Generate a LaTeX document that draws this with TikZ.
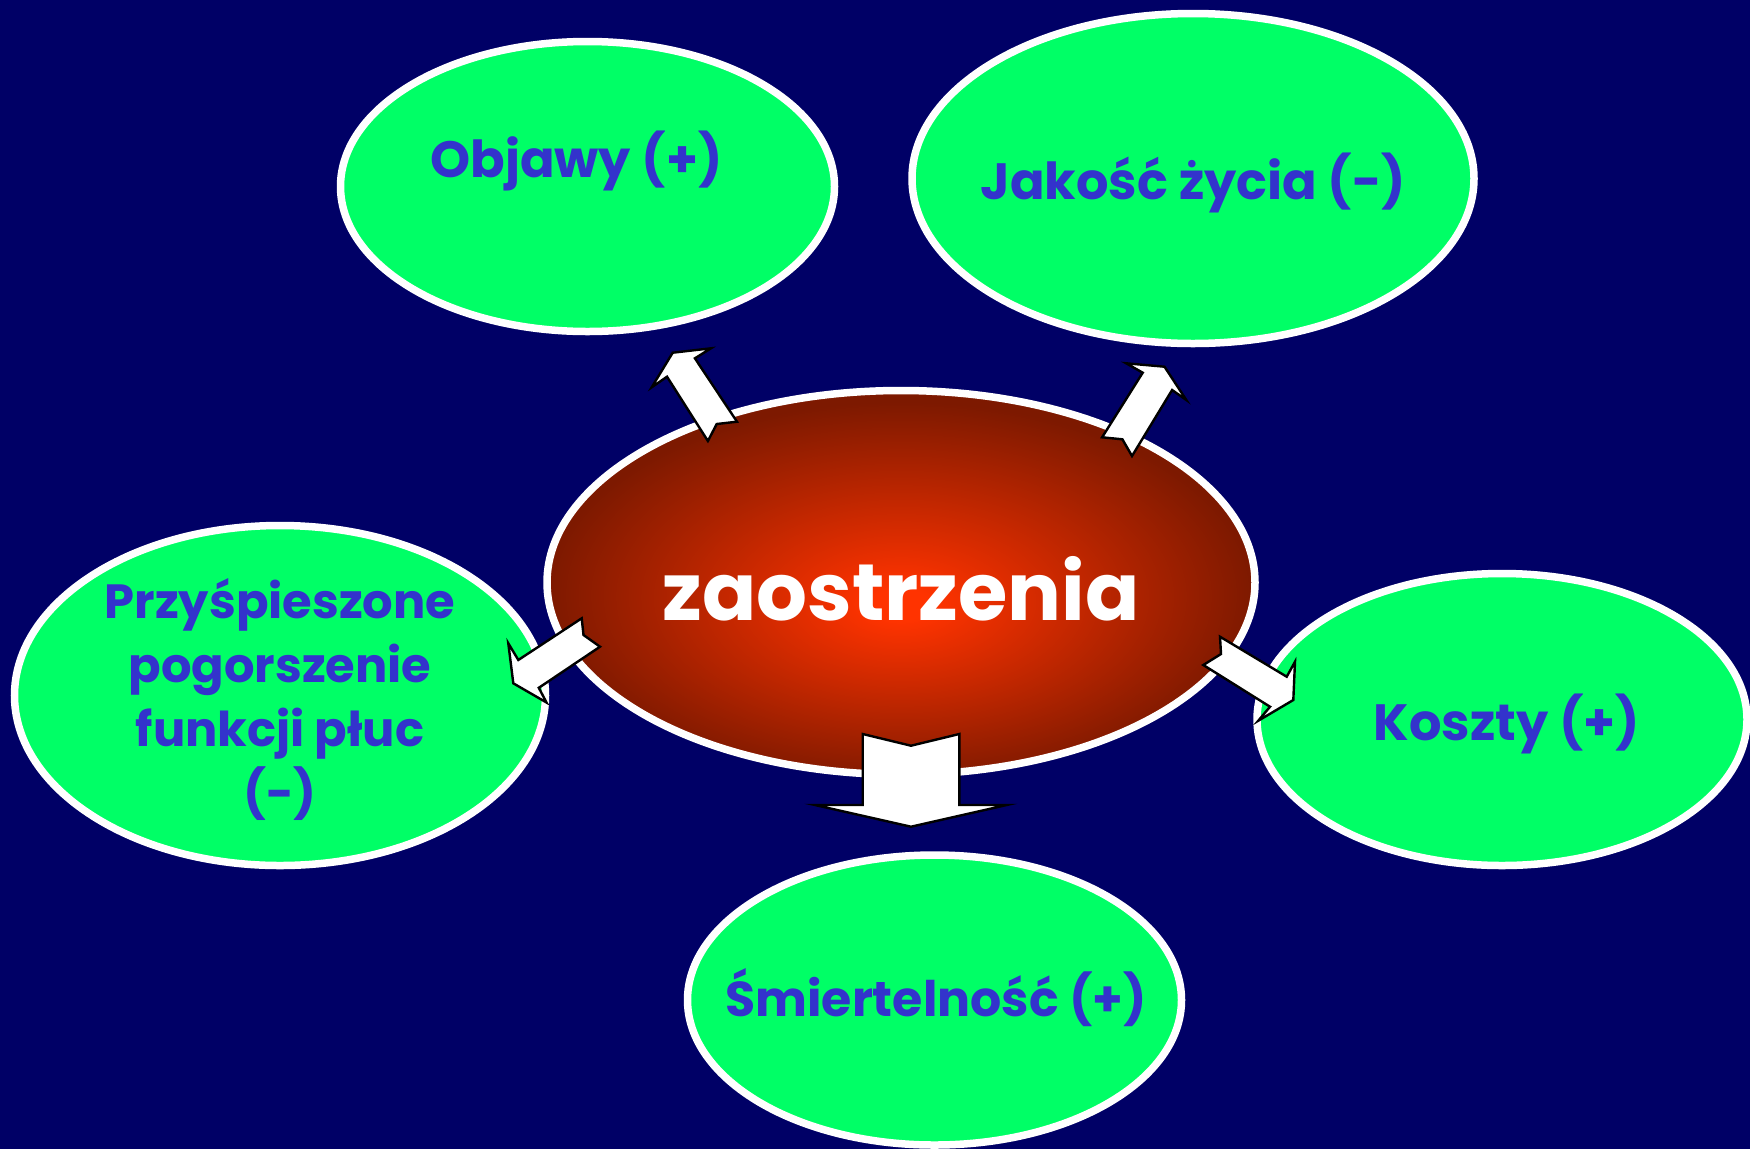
\documentclass[tikz,border=0pt]{standalone}
\usepackage{fontspec}
\setmainfont{Poppins}
\usetikzlibrary{shapes.geometric}
\definecolor{bgnavy}{RGB}{0,0,102}
\definecolor{bubgreen}{RGB}{0,255,102}
\definecolor{txtblue}{RGB}{51,51,204}
\definecolor{cInner}{RGB}{255,51,0}
\definecolor{cOuter}{RGB}{125,25,0}
\pgfdeclareradialshading{centralshade}{\pgfpoint{0bp}{-3bp}}{color(0bp)=(cInner); color(2bp)=(cInner); color(25bp)=(cOuter); color(50bp)=(cOuter)}
\tikzset{
  bubble/.style={ellipse, draw=white, line width=7.5pt, fill=bubgreen, inner sep=0pt},
  lbl/.style={text=txtblue, font=\bfseries\fontsize{51}{64}\selectfont, align=center, inner sep=0pt},
  lblsmall/.style={lbl, font=\bfseries\fontsize{48}{64}\selectfont},
  lblmid/.style={lbl, font=\bfseries\fontsize{49}{64}\selectfont},
  bigl/.style={text=white, font=\bfseries\fontsize{80}{90}\selectfont, inner sep=0pt},
  blockarrow/.style={fill=white, draw=black, line width=2.4pt, line join=miter},
}
\begin{document}
\begin{tikzpicture}[x=1pt,y=-1pt]
\useasboundingbox (0,0) rectangle (1750,1149);
\clip (0,0) rectangle (1750,1149);
\fill[bgnavy] (0,0) rectangle (1750,1149);
% bubbles
\node[bubble, minimum width=494pt, minimum height=290pt] (objawy) at (587.5,186.5) {};
\node[bubble, minimum width=562pt, minimum height=330pt] (jakosc) at (1193,178.5) {};
\node[bubble, minimum width=531pt, minimum height=340pt] (przysp) at (280,695.5) {};
\node[bubble, minimum width=490pt, minimum height=292pt] (koszty) at (1502,719.5) {};
\node[bubble, minimum width=494pt, minimum height=290pt] (smiert) at (934.5,1000) {};
\node[ellipse, draw=white, line width=7.5pt, shading=centralshade, inner sep=0pt,
      minimum width=708pt, minimum height=384pt] (centr) at (901,582.5) {};
% block arrows
\draw[blockarrow] (651.7,387.3) -- (672.7,352.7) -- (711,348.3) -- (694.9,358.3)
  -- (737,421.7) -- (716.7,424) -- (707.9,441) -- (667,376.7) -- cycle;
\draw[blockarrow] (1126.2,363.3) -- (1164.5,366.7) -- (1186.3,400) -- (1172.1,390)
  -- (1132,456) -- (1122.4,439.3) -- (1102.1,437.3) -- (1142.7,372.7) -- cycle;
\draw[blockarrow] (862.7,734) -- (911,745.7) -- (959.3,734) -- (959.3,805)
  -- (1006.7,805) -- (911,826.7) -- (815,805) -- (862.7,805) -- cycle;
\draw[blockarrow] (581.7,618.3) -- (583.5,635) -- (600,646.7) -- (538.8,687.8)
  -- (546.5,702.5) -- (513.3,683.3) -- (508.3,643.3) -- (518.3,660) -- cycle;
\draw[blockarrow] (1220,636.7) -- (1221,654) -- (1203.3,665) -- (1270,706.7)
  -- (1258.3,720.7) -- (1293.3,700) -- (1295,661.7) -- (1286.7,676.7) -- cycle;
% texts
\node[lbl] (objawyT) at (576.5,161) {Objawy (+)};
\node[lbl] (jakoscT) at (1193.5,183) {Jakość życia (-)};
\node[lblsmall] (przyspT) at (280,699) {Przyśpieszone\\pogorszenie\\funkcji płuc\\(-)};
\node[lbl] (kosztyT) at (1507,724) {Koszty (+)};
\node[lblmid] (smiertT) at (936,998) {Śmiertelność (+)};
\node[bigl] (centrT) at (901,589) {zaostrzenia};
\end{tikzpicture}
\end{document}
